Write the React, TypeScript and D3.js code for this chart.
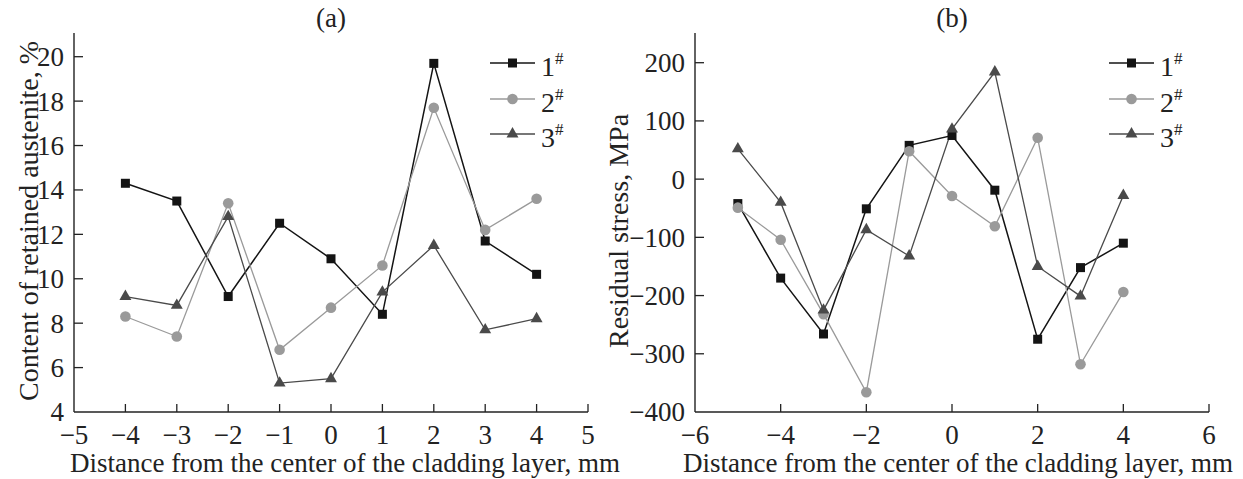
import React, { useEffect, useRef } from "react"
import * as d3 from "d3"

// distances (mm)
const distA = [-4, -3, -2, -1, 0, 1, 2, 3, 4]
const distB = [-5, -4, -3, -2, -1, 0, 1, 2, 3, 4]

// retained austenite, %
const austenite1 = [14.3, 13.5, 9.2, 12.5, 10.9, 8.4, 19.7, 11.7, 10.2]
const austenite2 = [8.3, 7.4, 13.4, 6.8, 8.7, 10.6, 17.7, 12.2, 13.6]
const austenite3 = [9.2, 8.8, 12.8, 5.3, 5.5, 9.4, 11.5, 7.7, 8.2]

// residual stress, MPa
const stress1 = [-42, -170, -266, -51, 58, 75, -19, -275, -152, -110]
const stress2 = [-49, -104, -232, -366, 48, -29, -81, 71, -318, -194]
const stress3 = [52, -40, -225, -87, -132, 86, 184, -150, -201, -28]

const seriesNames = ["1", "2", "3"]
const ticksA = [-5, -4, -3, -2, -1, 0, 1, 2, 3, 4, 5]
const yTicksA = [4, 6, 8, 10, 12, 14, 16, 18, 20]
const ticksB = [-6, -4, -2, 0, 2, 4, 6]
const yTicksB = [-400, -300, -200, -100, 0, 100, 200]

const colors = ["#141414", "#9a9a9a", "#4a4a4a"]
const FONT = "'Liberation Serif', 'Times New Roman', serif"

const minus = (v: number) => (v < 0 ? "\u2212" + Math.abs(v) : String(v))

function drawPanel(svg, cfg) {
  const { x0, x1, yBot, yTop, xDomain, yDomain, yRange0, xs, series, xTicks, yTicks, title, yLabel, yLabelX, yLabelY, xLabelX, legendX } = cfg
  const x = d3.scaleLinear().domain(xDomain).range([x0, x1])
  const y = d3.scaleLinear().domain(yDomain).range([yBot, yRange0])
  const g = svg.append("g")

  // axes
  g.append("line").attr("x1", x0).attr("x2", x0).attr("y1", yTop).attr("y2", yBot)
    .attr("stroke", "#222").attr("stroke-width", 1.4)
  g.append("line").attr("x1", x0).attr("x2", x1).attr("y1", yBot).attr("y2", yBot)
    .attr("stroke", "#222").attr("stroke-width", 1.4)

  xTicks.forEach(t => {
    if (t !== xDomain[0]) {
      g.append("line").attr("x1", x(t)).attr("x2", x(t)).attr("y1", yBot).attr("y2", yBot - 8)
        .attr("stroke", "#222").attr("stroke-width", 1.3)
    }
    g.append("text").attr("x", x(t)).attr("y", 444).attr("text-anchor", "middle")
      .attr("font-family", FONT).attr("font-size", 27).attr("fill", "#222").text(minus(t))
  })
  yTicks.forEach(t => {
    if (t !== yDomain[0]) {
      g.append("line").attr("x1", x0).attr("x2", x0 + 9).attr("y1", y(t)).attr("y2", y(t))
        .attr("stroke", "#222").attr("stroke-width", 1.3)
    }
    g.append("text").attr("x", x0 - 10).attr("y", y(t)).attr("dy", "0.35em").attr("text-anchor", "end")
      .attr("font-family", FONT).attr("font-size", 27).attr("fill", "#222").text(minus(t))
  })

  g.append("text").attr("x", (x0 + x1) / 2).attr("y", 27).attr("text-anchor", "middle")
    .attr("font-family", FONT).attr("font-size", 27).attr("fill", "#222").text(title)
  g.append("text").attr("x", xLabelX).attr("y", 472).attr("text-anchor", "middle")
    .attr("font-family", FONT).attr("font-size", 27).attr("fill", "#222")
    .text("Distance from the center of the cladding layer, mm")
  g.append("text").attr("transform", `translate(${yLabelX},${yLabelY}) rotate(-90)`)
    .attr("text-anchor", "middle").attr("font-family", FONT).attr("font-size", 28).attr("fill", "#222")
    .text(yLabel)

  const line = d3.line().x(d => x(d[0])).y(d => y(d[1]))
  const tri = d3.symbol().type(d3.symbolTriangle).size(62)

  const drawMarker = (sel, i, cx, cy) => {
    if (i === 0) {
      sel.append("rect").attr("x", cx - 4.5).attr("y", cy - 4.5).attr("width", 9).attr("height", 9)
        .attr("fill", colors[0])
    } else if (i === 1) {
      sel.append("circle").attr("cx", cx).attr("cy", cy).attr("r", 5.3).attr("fill", colors[1])
    } else {
      sel.append("path").attr("d", tri()).attr("transform", `translate(${cx},${cy})`).attr("fill", colors[2])
    }
  }

  series.forEach((vals, i) => {
    const pts = xs.map((d, k) => [d, vals[k]])
    g.append("path").attr("d", line(pts)).attr("fill", "none")
      .attr("stroke", colors[i]).attr("stroke-width", i === 0 ? 1.5 : 1.3)
  })
  series.forEach((vals, i) => {
    xs.forEach((d, k) => drawMarker(g, i, x(d), y(vals[k])))
  })

  // legend
  const rows = [63, 99, 134]
  seriesNames.forEach((name, i) => {
    const ly = rows[i]
    g.append("line").attr("x1", legendX).attr("x2", legendX + 45).attr("y1", ly).attr("y2", ly)
      .attr("stroke", colors[i]).attr("stroke-width", 1.4)
    drawMarker(g, i, legendX + 22.5, ly)
    const t = g.append("text").attr("x", legendX + 51).attr("y", ly + 13)
      .attr("font-family", FONT).attr("font-size", 28).attr("fill", "#222")
    t.append("tspan").text(name)
    t.append("tspan").attr("dy", -12).attr("font-size", 17).text("#")
  })
}

export default function App() {
  const ref = useRef(null)
  useEffect(() => {
    document.body.style.margin = "0"
    const wrapper = ref.current
    d3.select(wrapper).selectAll("*").remove()
    const svg = d3.select(wrapper).append("svg").attr("width", 1243).attr("height", 479)
      .style("display", "block").style("background", "#fff")

    drawPanel(svg, {
      x0: 74, x1: 588, yBot: 412, yTop: 33, xDomain: [-5, 5], yDomain: [4, 20], yRange0: 56.7,
      xs: distA, series: [austenite1, austenite2, austenite3], xTicks: ticksA, yTicks: yTicksA,
      title: "(a)", yLabel: "Content of retained austenite, %", yLabelX: 38, yLabelY: 221,
      xLabelX: 345, legendX: 490,
    })
    drawPanel(svg, {
      x0: 695, x1: 1209, yBot: 412, yTop: 33, xDomain: [-6, 6], yDomain: [-400, 200], yRange0: 62.7,
      xs: distB, series: [stress1, stress2, stress3], xTicks: ticksB, yTicks: yTicksB,
      title: "(b)", yLabel: "Residual stress, MPa", yLabelX: 628, yLabelY: 231,
      xLabelX: 958, legendX: 1109,
    })
  }, [])

  return <div ref={ref}></div>
}
